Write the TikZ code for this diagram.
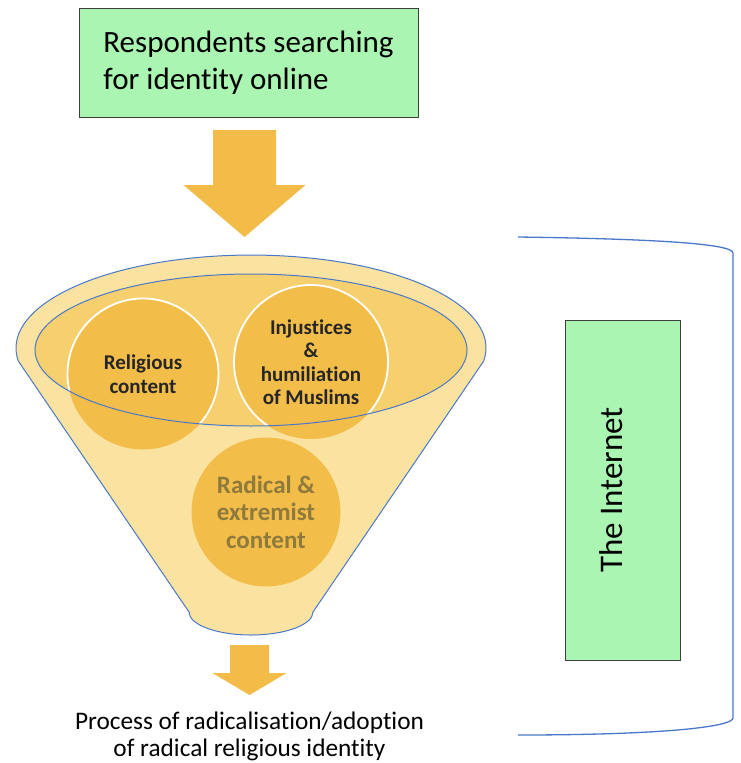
\documentclass[tikz,border=0pt]{standalone}
\usepackage{fontspec}
\setmainfont[Ligatures=NoCommon]{Carlito}
\usetikzlibrary{positioning,calc}

\definecolor{boxgreen}{HTML}{A9F5B1}
\definecolor{boxrim}{HTML}{3F3F3F}
\definecolor{arrowgold}{HTML}{F3BC48}
\definecolor{funnelpale}{HTML}{FAE3A1}
\definecolor{funnelmid}{HTML}{F6D06E}
\definecolor{topicgold}{HTML}{F3BD4A}
\definecolor{rimblue}{HTML}{4A78C8}
\definecolor{radtext}{HTML}{8D7A3C}

\tikzset{
  greenbox/.style={draw=boxrim, fill=boxgreen, line width=1pt},
  topic/.style={circle, fill=topicgold, inner sep=0pt, align=center, text=black!85},
  rimline/.style={draw=rimblue, line width=1pt},
  pics/downarrow/.style args={#1/#2/#3/#4}{code={
    \fill[arrowgold] (-#1,0) -- (#1,0) -- (#1,#3) -- (#2,#3) -- (0,#4)
      -- (-#2,#3) -- (-#1,#3) -- cycle;}},
}

\begin{document}
\begin{tikzpicture}[x=1pt, y=-1pt]
  \useasboundingbox (0,0) rectangle (740,763);
  % who goes in
  \node[greenbox, minimum width=339pt, minimum height=109pt, align=left,
        font=\fontsize{31}{37}\selectfont] (seeker) at (248.5,62.5)
        {Respondents searching\\for identity online};
  \pic at (244.5,130) {downarrow=31.5/61/55/107};
%
  % the funnel
  \draw[rimline, fill=funnelpale] (18.3,361) -- (189,612)
     arc[start angle=180, end angle=0, x radius=62, y radius=23] -- (483.7,361)
     arc[start angle=8, end angle=-188, x radius=235, y radius=93] -- cycle;
  \fill[funnelmid] (251,350) ellipse[x radius=216, y radius=76];
  \node[topic, minimum size=151pt, font=\bfseries\fontsize{21}{23.5}\selectfont]
    (relig) at (143,374) {Religious\\content};
  \node[topic, minimum size=154pt, font=\bfseries\fontsize{21}{23.5}\selectfont]
    (injust) at (311,362) {Injustices\\\&\\humiliation\\of Muslims};
  \node[topic, minimum size=149pt, font=\bfseries\fontsize{25}{27.5}\selectfont,
    text=radtext] (radical) at (266,512) {Radical \&\\extremist\\content};
  \begin{scope}
    \clip (251,350) ellipse[x radius=216, y radius=76];
    \draw[white, line width=1.8pt] (relig.center) circle[radius=75.5];
    \draw[white, line width=1.8pt] (injust.center) circle[radius=77];
  \end{scope}
  \draw[rimline] (251,350) ellipse[x radius=216, y radius=76];
%
  % what comes out
  \pic at (249.5,645) {downarrow=19.5/37/28/50};
  \node[align=center, font=\fontsize{25.3}{27}\selectfont] (outcome) at (249.5,736)
    {Process of radicalisation/adoption\\of radical religious identity};
%
  % the internet round it all
  \draw[rimline, line width=1.3pt] (518,237) .. controls (660,239) and (733,244) .. (733,253)
    -- (733,718) .. controls (733,727) and (660,735) .. (518,735);
  \node[greenbox, rotate=90, minimum width=340pt, minimum height=115pt, text depth=22pt,
        font=\fontsize{33}{40}\selectfont] (internet) at (622.5,490) {The Internet};
\end{tikzpicture}
\end{document}
